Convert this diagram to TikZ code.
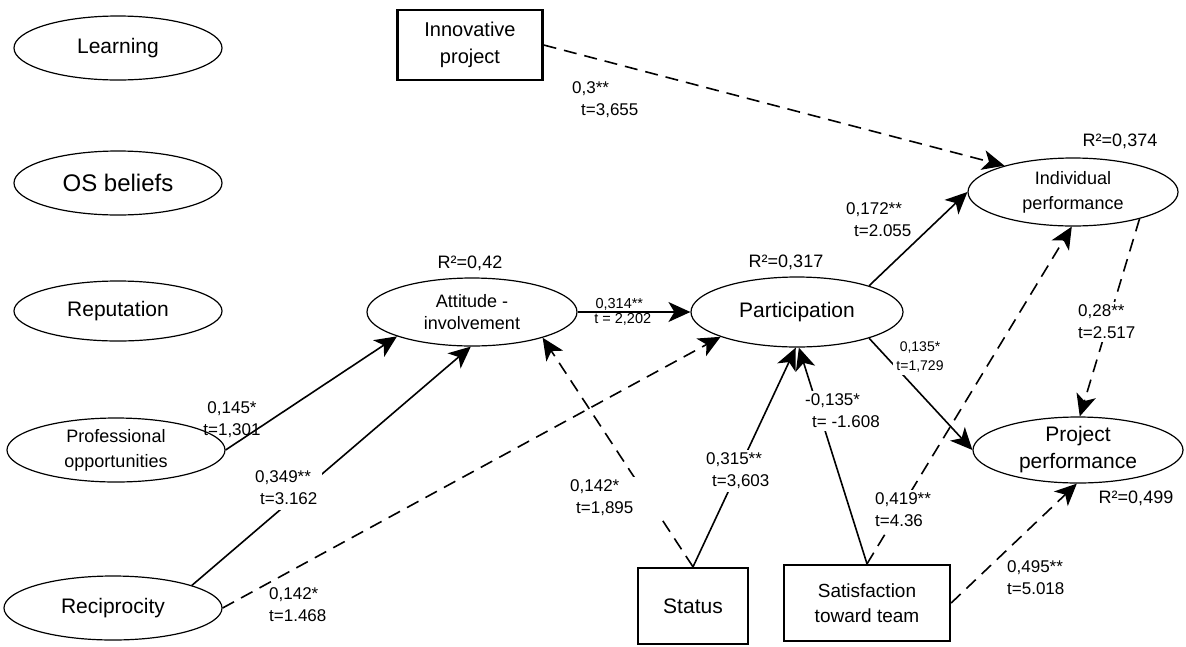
\documentclass[tikz,border=0pt]{standalone}
\usepackage{fontspec}
\setmainfont{Liberation Sans}
\usetikzlibrary{shapes.geometric,arrows.meta}

\newcommand{\fsz}[2]{\fontsize{#1}{#2}\selectfont}

\tikzset{
  latent/.style={ellipse, draw, line width=1.2pt, inner sep=0pt, align=center,
    minimum width=208pt, minimum height=64pt},
  indicator/.style={rectangle, draw, line width=2.3pt, inner sep=0pt, align=center},
  effect/.style={line width=1.6pt, -{Stealth[length=22pt,width=20pt,inset=6pt]}},
  weak/.style={effect, dash pattern=on 13pt off 8pt},
  coef/.style={font=\fsz{17}{22}, align=left, inner sep=1pt},
  coefgap/.style={coef, fill=white, inner sep=3pt},
  rsq/.style={font=\fsz{18}{20}, inner sep=1pt},
}

\begin{document}
\begin{tikzpicture}[x=1pt,y=-1pt]
    \useasboundingbox (0,0) rectangle (1186,646);

    % Antecedents on the left
    \node[latent, font=\fsz{21}{24}] (learn) at (118,48) {Learning};
    \node[latent, font=\fsz{24}{26}] (osb) at (118,183) {OS beliefs};
    \node[latent, font=\fsz{21}{24}, minimum height=60pt] (rep) at (118,311) {Reputation};
    \node[latent, font=\fsz{18}{25}, minimum width=218pt] (prof) at (116,450) {Professional\\opportunities};
    \node[latent, font=\fsz{21}{24}, minimum width=218pt] (recip) at (113,608) {Reciprocity};

    % Observed variables
    \node[indicator, minimum width=145pt, minimum height=70pt, font=\fsz{20}{27}] (innov) at (470,45) {Innovative\\project};
    \node[indicator, minimum width=110pt, minimum height=76pt, font=\fsz{21}{24}] (status) at (693,606) {Status};
    \node[indicator, minimum width=166pt, minimum height=76pt, font=\fsz{19}{25}] (sat) at (867,603) {Satisfaction\\toward team};

    % Mediators and outcomes
    \node[latent, font=\fsz{18}{22}, minimum width=210pt, minimum height=68pt] (att) at (472,312) {Attitude -\\involvement};
    \node[latent, font=\fsz{21}{24}, minimum width=212pt, minimum height=70pt] (part) at (797,312) {Participation};
    \node[latent, font=\fsz{18}{25}, minimum width=210pt, minimum height=68pt] (indiv) at (1073,192) {Individual\\performance};
    \node[latent, font=\fsz{21}{27}, minimum width=210pt, minimum height=66pt] (proj) at (1078,450) {Project\\performance};

    % Explained variance
    \node[rsq] (r_att) at (470,263) {R²=0,42};
    \node[rsq] (r_part) at (786,262) {R²=0,317};
    \node[rsq] (r_indiv) at (1120,141) {R²=0,374};
    \node[rsq] (r_proj) at (1136,498) {R²=0,499};

    % Paths
    \draw[weak] (innov.east) -- (indiv.159);
    \draw[effect] (prof.east) -- (att.198);
    \draw[effect] (recip.16) -- (att.268);
    \draw[weak] (recip.east) -- (part.198);
    \draw[weak] (status.north) -- (att.340);
    \draw[effect] (status.north) -- (part.268);
    \draw[effect] (sat.north) -- (part.273);
    \draw[weak] (sat.north) -- (indiv.268);
    \draw[weak] (sat.east) -- (proj.268);
    \draw[effect] (att.east) --
        node[coef, font=\fsz{14.5}{17}, pos=0.37, above] (c_attpart) {0,314**}
        node[coef, font=\fsz{14.5}{17}, pos=0.4, below] (t_attpart) {t = 2,202} (part.west);
    \draw[effect] (part.20) -- (indiv.west);
    \draw[effect] (part.-20) -- (proj.west);
    \draw[weak] (indiv.-22) -- (proj.87);

    % Coefficients
    \node[coef, anchor=west] (c_innov) at (571,100) {0,3**\\\hspace*{9pt}t=3,655};
    \node[coef, align=center] (c_prof) at (232,420) {0,145*\\t=1,301};
    \node[coefgap, anchor=west, inner sep=5pt] (c_recatt) at (250,488) {0,349**\\\hspace*{5pt}t=3.162};
    \node[coef, anchor=west] (c_recpart) at (268,605) {0,142*\\t=1.468};
    \node[coefgap, anchor=west, text width=88pt] (c_statt) at (567,498) {0,142*\\\hspace*{6pt}t=1,895};
    \node[coefgap, anchor=west] (c_stpart) at (703,471) {0,315**\\\hspace*{6pt}t=3,603};
    \node[coefgap, anchor=west] (c_satpart) at (802,411) {-0,135*\\\hspace*{7pt}t= -1.608};
    \node[coefgap, anchor=west] (c_satind) at (872,510) {0,419**\\t=4.36};
    \node[coefgap, anchor=west] (c_satproj) at (1004,578) {0,495**\\t=5.018};
    \node[coef, anchor=west] (c_partind) at (845,220) {0,172**\\\hspace*{8pt}t=2.055};
    \node[coefgap, font=\fsz{14}{19}, align=center] (c_partproj) at (920,357) {0,135*\\t=1,729};
    \node[coefgap, anchor=west] (c_indproj) at (1075,322) {0,28**\\t=2.517};
\end{tikzpicture}
\end{document}
